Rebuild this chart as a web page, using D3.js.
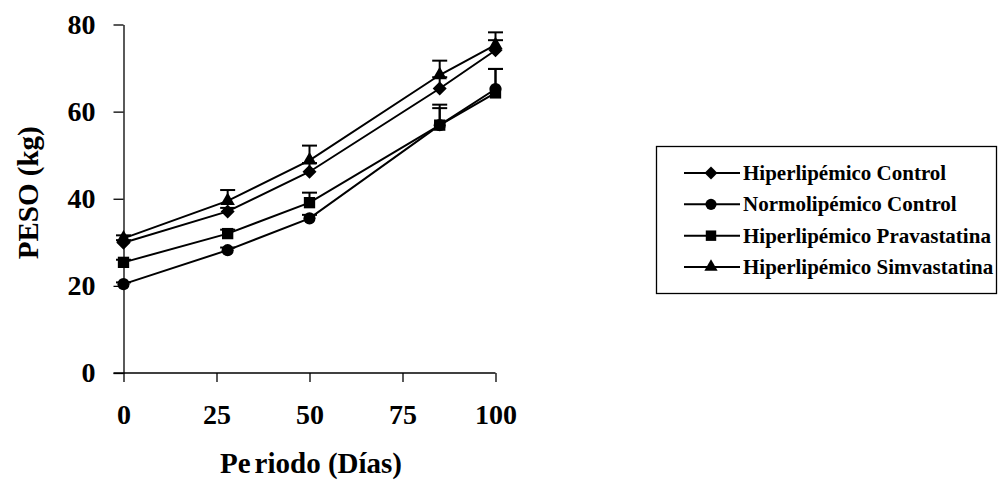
<!DOCTYPE html>
<html>
<head>
<meta charset="utf-8">
<script src="https://cdn.jsdelivr.net/npm/d3@7/dist/d3.min.js"></script>
<style>
  html, body { margin: 0; padding: 0; background: #fff; }
  svg { display: block; }
  text { font-family: "Liberation Serif", "Times New Roman", serif; font-weight: bold; fill: #000; }
</style>
</head>
<body>
<svg id="chart" width="1008" height="481"></svg>
<script>
// Weight (kg) over the trial period, by group
const days = [0, 28, 50, 85, 100];
const seriesNames = [
  "Hiperlipémico Control",
  "Normolipémico Control",
  "Hiperlipémico Pravastatina",
  "Hiperlipémico Simvastatina"
];
const hiperControl     = [29.9, 37.1, 46.2, 65.3, 74.1];
const normoControl     = [20.4, 28.2, 35.5, 56.9, 65.2];
const hiperPrava       = [25.4, 32.0, 39.1, 56.9, 64.3];
const hiperSimva       = [30.9, 39.5, 48.8, 68.4, 75.3];
// upper error (kg) above each mean
const hiperControlErr  = [0.6, 0.8, 2.0, 2.6, 2.3];
const normoControlErr  = [0.4, 0.6, 0.8, 3.9, 4.6];
const hiperPravaErr    = [0.6, 0.9, 2.3, 4.7, 5.5];
const hiperSimvaErr    = [0.7, 2.5, 3.4, 3.3, 2.9];
const xTicks = [0, 25, 50, 75, 100];
const yTicks = [0, 20, 40, 60, 80];
const xTitleParts = ["Pe", "riodo (Días)"];
const yTitle = "PESO (kg)";

// marker shapes
const diamondShape = {
  draw(ctx, size) {
    const r = Math.sqrt(size / 2);
    ctx.moveTo(0, -r); ctx.lineTo(r, 0); ctx.lineTo(0, r); ctx.lineTo(-r, 0); ctx.closePath();
  }
};
const markerTypes = [diamondShape, d3.symbolCircle, d3.symbolSquare, d3.symbolTriangle];
const markerSizes = [98, 115, 128, 90];

const series = [
  { name: seriesNames[0], values: hiperControl, err: hiperControlErr },
  { name: seriesNames[1], values: normoControl, err: normoControlErr },
  { name: seriesNames[2], values: hiperPrava, err: hiperPravaErr },
  { name: seriesNames[3], values: hiperSimva, err: hiperSimvaErr }
];

const svg = d3.select("#chart");

const x = d3.scaleLinear().domain([0, 100]).range([123.5, 495.5]);
const y = d3.scaleLinear().domain([0, 80]).range([373, 24.5]);

// axes
const xAxis = svg.append("g")
  .attr("transform", `translate(0,${y(0)})`)
  .call(d3.axisBottom(x).tickValues(xTicks).tickSizeInner(9).tickSizeOuter(0).tickPadding(22));
const yAxis = svg.append("g")
  .attr("transform", `translate(${x(0)},0)`)
  .call(d3.axisLeft(y).tickValues(yTicks).tickSizeInner(10).tickSizeOuter(0).tickPadding(18));

[xAxis, yAxis].forEach(g => {
  g.select(".domain").attr("stroke", "#000").attr("stroke-width", 1.3);
  g.selectAll(".tick line").attr("stroke", "#000").attr("stroke-width", 1.3);
  g.selectAll(".tick text")
    .style("font-family", '"Liberation Serif", "Times New Roman", serif')
    .style("font-weight", "bold")
    .style("font-size", "28px")
    .attr("fill", "#000");
});
// x axis line runs left to the outer end of the y ticks
xAxis.select(".domain").attr("d", `M${x(0) - 10},0H${x(100)}`);
xAxis.selectAll(".tick text").attr("dy", "0.71em");

// axis titles
const xt = svg.append("text")
  .attr("x", 311).attr("y", 473)
  .attr("text-anchor", "middle")
  .style("font-size", "29px");
xt.append("tspan").text(xTitleParts[0]);
xt.append("tspan").attr("dx", 4).text(xTitleParts[1]);

svg.append("text")
  .attr("transform", `translate(38,${(y(0) + y(80)) / 2 - 6}) rotate(-90)`)
  .attr("text-anchor", "middle")
  .style("font-size", "29px")
  .text(yTitle);

const line = d3.line().x((d, i) => x(days[i])).y(d => y(d));

const plot = svg.append("g");

// connecting lines
plot.selectAll("path.series")
  .data(series)
  .join("path")
  .attr("class", "series")
  .attr("fill", "none")
  .attr("stroke", "#000")
  .attr("stroke-width", 2)
  .attr("d", d => line(d.values));

// upper error bars
series.forEach(s => {
  const g = plot.append("g");
  s.values.forEach((v, i) => {
    const cx = x(days[i]);
    g.append("line")
      .attr("x1", cx).attr("x2", cx)
      .attr("y1", y(v)).attr("y2", y(v + s.err[i]))
      .attr("stroke", "#000").attr("stroke-width", 2);
    g.append("line")
      .attr("x1", cx - 7.5).attr("x2", cx + 7.5)
      .attr("y1", y(v + s.err[i])).attr("y2", y(v + s.err[i]))
      .attr("stroke", "#000").attr("stroke-width", 2);
  });
});

// markers
series.forEach((s, k) => {
  const sym = d3.symbol().type(markerTypes[k]).size(markerSizes[k]);
  plot.append("g").selectAll("path")
    .data(s.values)
    .join("path")
    .attr("transform", (v, i) => `translate(${x(days[i])},${y(v)})`)
    .attr("d", sym)
    .attr("fill", "#000");
});

// legend
const legend = svg.append("g");
legend.append("rect")
  .attr("x", 656.5).attr("y", 146.5)
  .attr("width", 340).attr("height", 147)
  .attr("fill", "#fff").attr("stroke", "#000").attr("stroke-width", 1.3);

const rowY = d3.scalePoint().domain(seriesNames).range([173, 267]);
series.forEach((s, k) => {
  const ry = rowY(s.name);
  legend.append("line")
    .attr("x1", 684).attr("x2", 740)
    .attr("y1", ry).attr("y2", ry)
    .attr("stroke", "#000").attr("stroke-width", 2);
  legend.append("path")
    .attr("transform", `translate(711,${ry})`)
    .attr("d", d3.symbol().type(markerTypes[k]).size(markerSizes[k] * 0.85)())
    .attr("fill", "#000");
  legend.append("text")
    .attr("x", 743).attr("y", ry + 7)
    .style("font-size", "21px")
    .text(s.name);
});
</script>
</body>
</html>
